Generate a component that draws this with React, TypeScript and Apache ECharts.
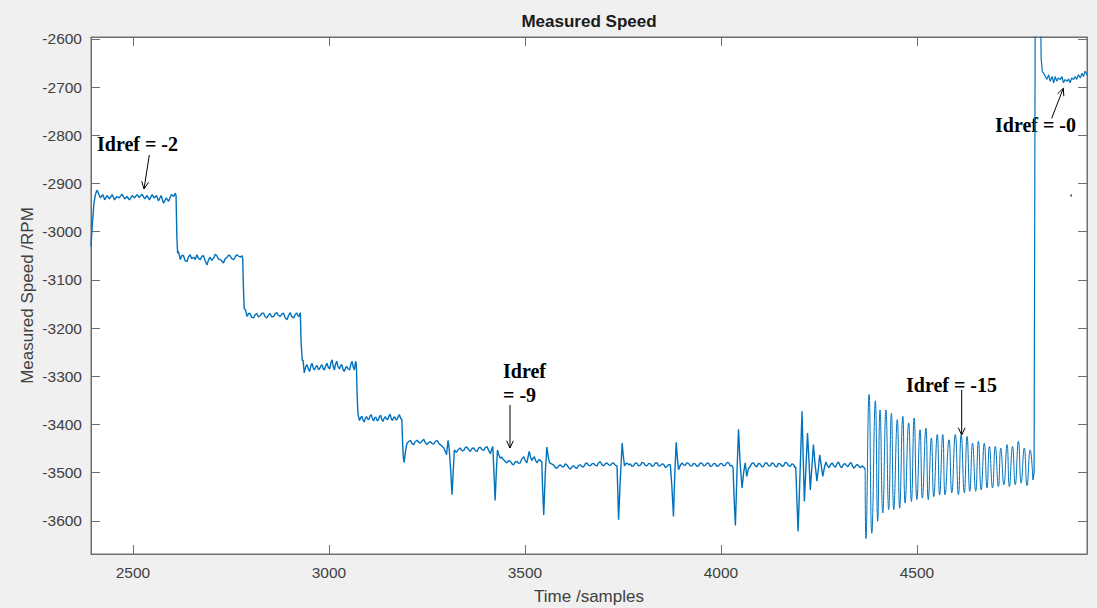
import React, { useEffect, useRef } from 'react';
import * as echarts from 'echarts';

// Axis extents and tick values
const X_MIN = 2393;
const X_MAX = 4934;
const Y_MIN = -3669;
const Y_MAX = -2596;
const xTicks = [2500, 3000, 3500, 4000, 4500];
const yTicks = [-3600, -3500, -3400, -3300, -3200, -3100, -3000, -2900, -2800, -2700, -2600];

const level1: [number, number][] = [
  [2393, -3030], [2396, -2990], [2400, -2945], [2404, -2924], [2408, -2914], [2411, -2918], [2417, -2930],
  [2423, -2923], [2428, -2934], [2434, -2925], [2440, -2932], [2447, -2923], [2453, -2934], [2459, -2927],
  [2465, -2930], [2472, -2922], [2479, -2932], [2485, -2927], [2491, -2934], [2498, -2925], [2504, -2930],
  [2510, -2923], [2516, -2929], [2523, -2922], [2530, -2932], [2536, -2925], [2542, -2934], [2549, -2923],
  [2554, -2930], [2560, -2925], [2565, -2936], [2572, -2925], [2578, -2941], [2585, -2930], [2591, -2937],
  [2598, -2923], [2604, -2927], [2608, -2920], [2610, -2925],
];
const level2: [number, number][] = [
  [2612, -3010], [2614, -3045], [2616, -3041], [2621, -3058], [2625, -3049], [2629, -3050], [2633, -3060],
  [2638, -3062], [2642, -3052], [2646, -3048], [2650, -3056], [2655, -3053], [2659, -3058], [2663, -3048],
  [2667, -3055], [2672, -3058], [2676, -3051], [2680, -3050], [2684, -3060], [2689, -3069], [2693, -3058],
  [2697, -3053], [2701, -3060], [2706, -3055], [2710, -3047], [2714, -3050], [2718, -3057], [2723, -3058],
  [2727, -3061], [2731, -3065], [2735, -3057], [2740, -3053], [2744, -3049], [2748, -3050], [2752, -3056],
  [2757, -3058], [2761, -3052], [2765, -3048], [2770, -3051], [2774, -3053], [2778, -3050], [2780, -3055],
];
const level3: [number, number][] = [
  [2782, -3120], [2784, -3160], [2787, -3162], [2791, -3176], [2795, -3170], [2799, -3170], [2803, -3178],
  [2808, -3179], [2812, -3172], [2816, -3170], [2820, -3177], [2825, -3174], [2829, -3169], [2833, -3169],
  [2837, -3176], [2842, -3179], [2846, -3173], [2850, -3170], [2854, -3177], [2859, -3176], [2863, -3170],
  [2867, -3168], [2871, -3174], [2876, -3176], [2880, -3171], [2884, -3169], [2888, -3178], [2893, -3183],
  [2897, -3174], [2901, -3168], [2905, -3176], [2910, -3179], [2914, -3172], [2918, -3169], [2921, -3174],
  [2924, -3176], [2927, -3168],
];
const level4: [number, number][] = [
  [2929, -3230], [2932, -3268], [2934, -3266], [2937, -3293], [2941, -3280], [2944, -3276], [2948, -3286],
  [2951, -3290], [2954, -3278], [2957, -3273], [2960, -3283], [2963, -3287], [2967, -3280], [2970, -3278],
  [2973, -3286], [2976, -3285], [2979, -3279], [2982, -3276], [2985, -3284], [2988, -3287], [2991, -3280],
  [2995, -3273], [2998, -3281], [3002, -3285], [3005, -3272], [3008, -3266], [3011, -3280], [3014, -3287],
  [3017, -3275], [3020, -3269], [3023, -3280], [3027, -3285], [3030, -3278], [3033, -3276], [3036, -3286],
  [3039, -3290], [3043, -3282], [3046, -3280], [3049, -3285], [3053, -3287], [3056, -3275], [3059, -3269],
  [3062, -3281], [3065, -3287], [3068, -3269], [3070, -3275],
];
const level5: [number, number][] = [
  [3072, -3340], [3074, -3378], [3078, -3392], [3081, -3386], [3084, -3383], [3087, -3391], [3090, -3395],
  [3093, -3387], [3096, -3384], [3099, -3389], [3102, -3390], [3105, -3382], [3108, -3380], [3111, -3388],
  [3114, -3393], [3117, -3386], [3120, -3385], [3123, -3392], [3126, -3391], [3129, -3384], [3132, -3381],
  [3135, -3390], [3138, -3394], [3141, -3387], [3144, -3384], [3147, -3389], [3150, -3390], [3153, -3383],
  [3156, -3379], [3159, -3388], [3162, -3392], [3165, -3386], [3168, -3384], [3171, -3391], [3174, -3389],
  [3177, -3383], [3180, -3380], [3183, -3388], [3186, -3389],
];
const level6: [number, number][] = [
  [3188, -3440], [3190, -3470], [3192, -3479], [3195, -3458], [3199, -3439], [3203, -3436], [3208, -3433],
  [3212, -3440], [3216, -3442], [3220, -3436], [3225, -3433], [3229, -3437], [3233, -3439], [3237, -3435],
  [3242, -3431], [3246, -3438], [3250, -3442], [3254, -3438], [3259, -3436], [3263, -3440], [3267, -3441],
  [3271, -3436], [3276, -3433], [3280, -3439], [3284, -3442], [3288, -3445], [3293, -3449], [3297, -3456],
  [3300, -3463], [3304, -3433], [3307, -3453], [3311, -3500], [3314, -3546], [3317, -3500], [3320, -3453],
  [3325, -3458], [3330, -3452], [3335, -3449], [3340, -3455], [3344, -3454], [3348, -3448], [3352, -3447],
  [3357, -3453], [3361, -3456], [3365, -3450], [3369, -3449], [3374, -3455], [3378, -3456], [3382, -3449],
  [3386, -3447], [3390, -3452], [3395, -3454], [3399, -3448], [3403, -3446], [3408, -3455], [3412, -3461],
  [3415, -3452], [3418, -3446], [3421, -3500], [3424, -3558], [3427, -3500], [3430, -3453],
];
const level7: [number, number][] = [
  [3433, -3462], [3437, -3470], [3441, -3468], [3445, -3473], [3450, -3477], [3454, -3480], [3458, -3475],
  [3463, -3477], [3467, -3482], [3471, -3484], [3475, -3478], [3480, -3477], [3484, -3481], [3488, -3480],
  [3492, -3472], [3497, -3467], [3501, -3475], [3505, -3480], [3508, -3468], [3511, -3456], [3515, -3470],
  [3518, -3475], [3521, -3470], [3524, -3467], [3528, -3476], [3531, -3480], [3534, -3475], [3537, -3473],
  [3540, -3476], [3543, -3477], [3545, -3530], [3548, -3588], [3552, -3500], [3556, -3447], [3560, -3470],
  [3563, -3480], [3568, -3482], [3573, -3484], [3578, -3490], [3582, -3491], [3586, -3486], [3590, -3484],
  [3595, -3488], [3599, -3488], [3603, -3482], [3607, -3484], [3612, -3490], [3616, -3493], [3620, -3488],
  [3624, -3486], [3629, -3490], [3633, -3491], [3637, -3485], [3641, -3484], [3646, -3488], [3650, -3488],
  [3654, -3482], [3658, -3480], [3663, -3485], [3667, -3486], [3671, -3482], [3675, -3481], [3680, -3485],
  [3684, -3486], [3688, -3480], [3692, -3477], [3697, -3484], [3701, -3486], [3705, -3482], [3709, -3480],
  [3714, -3484], [3718, -3485], [3722, -3481], [3726, -3480], [3731, -3485], [3735, -3486], [3737, -3540],
  [3739, -3598], [3743, -3520], [3748, -3439], [3751, -3465], [3754, -3486], [3757, -3482], [3760, -3480],
  [3765, -3484], [3769, -3482], [3773, -3487], [3777, -3486], [3782, -3480], [3786, -3481], [3790, -3486],
  [3794, -3485], [3799, -3479], [3803, -3480], [3807, -3485], [3811, -3486], [3816, -3481], [3820, -3482],
  [3824, -3487], [3828, -3486], [3833, -3480], [3837, -3480], [3841, -3486], [3845, -3486], [3850, -3482],
  [3854, -3483], [3858, -3489], [3862, -3488], [3867, -3483], [3871, -3484], [3875, -3530], [3879, -3591],
  [3882, -3510], [3886, -3437], [3889, -3470], [3892, -3494], [3897, -3484], [3901, -3480], [3905, -3484],
  [3909, -3485], [3913, -3480], [3917, -3481], [3922, -3486], [3926, -3486], [3930, -3481], [3934, -3482],
  [3939, -3487], [3943, -3486], [3947, -3480], [3952, -3481], [3956, -3486], [3960, -3485], [3965, -3480],
  [3969, -3481], [3973, -3487], [3977, -3486], [3982, -3481], [3986, -3482], [3990, -3487], [3994, -3486],
  [3999, -3481], [4003, -3482], [4007, -3486], [4011, -3485], [4016, -3479], [4020, -3480], [4024, -3486],
  [4028, -3485], [4031, -3490],
];
const level8: [number, number][] = [
  [4034, -3560], [4037, -3610], [4041, -3500], [4045, -3410], [4049, -3480], [4054, -3532], [4058, -3500],
  [4062, -3480], [4066, -3508], [4070, -3492], [4075, -3487], [4079, -3481], [4083, -3480], [4088, -3486],
  [4092, -3488], [4096, -3481], [4100, -3482], [4105, -3488], [4109, -3487], [4113, -3480], [4117, -3480],
  [4122, -3486], [4126, -3486], [4130, -3480], [4134, -3481], [4139, -3487], [4143, -3488], [4147, -3481],
  [4151, -3482], [4156, -3487], [4160, -3486], [4164, -3479], [4168, -3480], [4173, -3486], [4177, -3487],
  [4181, -3482], [4185, -3483], [4189, -3490], [4191, -3488], [4194, -3560], [4197, -3622], [4202, -3500],
  [4207, -3373], [4210, -3470], [4213, -3560], [4217, -3490], [4221, -3418], [4225, -3480], [4228, -3536],
  [4232, -3490], [4236, -3442], [4240, -3480], [4245, -3518], [4249, -3490], [4252, -3463], [4256, -3485],
  [4260, -3508], [4264, -3490], [4268, -3478], [4272, -3486], [4276, -3490], [4280, -3483], [4284, -3480],
  [4288, -3486], [4292, -3489], [4296, -3482], [4300, -3478], [4304, -3486], [4308, -3490], [4312, -3484],
  [4316, -3481], [4320, -3485], [4324, -3488], [4328, -3482], [4332, -3479], [4336, -3487], [4340, -3491],
  [4344, -3486], [4348, -3483], [4352, -3487], [4356, -3490], [4360, -3486], [4364, -3488], [4368, -3494],
];
// Idref = -15 oscillation (peaks and troughs)
const oscillation: [number, number][] = [
  [4368, -3494], [4370, -3637], [4378, -3338], [4385, -3626], [4394, -3351], [4400, -3601], [4406, -3370],
  [4413, -3584], [4421, -3370], [4428, -3577], [4435, -3377], [4441, -3577], [4450, -3390], [4456, -3574],
  [4464, -3383], [4470, -3563], [4479, -3397], [4486, -3560], [4493, -3387], [4500, -3556], [4508, -3411],
  [4514, -3553], [4523, -3408], [4529, -3556], [4537, -3428], [4543, -3550], [4552, -3421], [4558, -3546],
  [4566, -3421], [4572, -3546], [4582, -3432], [4589, -3542], [4598, -3421], [4606, -3546], [4613, -3421],
  [4621, -3542], [4628, -3425], [4635, -3539], [4642, -3439], [4650, -3539], [4657, -3435], [4664, -3536],
  [4672, -3439], [4679, -3532], [4685, -3446], [4693, -3532], [4700, -3446], [4708, -3529], [4714, -3449],
  [4722, -3525], [4730, -3442], [4736, -3529], [4744, -3446], [4751, -3525], [4759, -3435], [4766, -3522],
  [4774, -3449], [4781, -3527], [4789, -3453], [4796, -3515],
];
// Idref = -0 tail
const tail: [number, number][] = [
  [4796, -3515], [4799, -3500], [4802, -2500], [4815, -2500], [4817, -2640], [4820, -2668], [4823, -2671],
  [4832, -2684], [4836, -2674], [4840, -2688], [4845, -2678], [4849, -2691], [4853, -2678], [4857, -2688],
  [4861, -2681], [4866, -2684], [4870, -2678], [4874, -2691], [4878, -2684], [4883, -2688], [4887, -2683],
  [4891, -2691], [4895, -2681], [4900, -2684], [4904, -2678], [4908, -2684], [4912, -2674], [4917, -2681],
  [4921, -2671], [4925, -2678], [4929, -2667], [4934, -2674],
];

const LINE_COLOR = '#0072BD';
const AXIS_COLOR = '#6e6e6e';
const LABEL_COLOR = '#404040';
const SANS = '"Liberation Sans", Arial, Helvetica, sans-serif';
const SERIF = '"Liberation Serif", "Times New Roman", serif';

function annotationText(text: string, x: number, y: number) {
  return {
    type: 'text',
    x,
    y,
    style: {
      text,
      font: `bold 20px ${SERIF}`,
      fill: '#000',
      textAlign: 'left',
      textVerticalAlign: 'middle',
      align: 'left',
      verticalAlign: 'middle',
    },
  };
}

function arrow(x1: number, y1: number, x2: number, y2: number) {
  const dx = x2 - x1;
  const dy = y2 - y1;
  const len = Math.sqrt(dx * dx + dy * dy);
  const ux = -dx / len;
  const uy = -dy / len;
  const a = (25 * Math.PI) / 180;
  const h = 8;
  const p1 = [x2 + h * (ux * Math.cos(a) - uy * Math.sin(a)), y2 + h * (ux * Math.sin(a) + uy * Math.cos(a))];
  const p2 = [x2 + h * (ux * Math.cos(-a) - uy * Math.sin(-a)), y2 + h * (ux * Math.sin(-a) + uy * Math.cos(-a))];
  return [
    { type: 'line', shape: { x1, y1, x2, y2 }, style: { stroke: '#000', lineWidth: 1 } },
    { type: 'polyline', shape: { points: [p1, [x2, y2], p2] }, style: { stroke: '#000', lineWidth: 1, fill: 'none' } },
  ];
}

export default function App() {
  const ref = useRef<HTMLDivElement>(null);

  useEffect(() => {
    if (!ref.current) return;
    const chart = echarts.init(ref.current, null, { renderer: 'svg' });

    const mainData = [
      ...level1, ...level2, ...level3, ...level4, ...level5, ...level6, ...level7, ...level8,
    ];

    const tickStyle = { color: AXIS_COLOR, width: 1 };
    const plain = (v: number) => String(v);
    const baseX = {
      type: 'value',
      min: X_MIN,
      max: X_MAX,
      splitLine: { show: false },
      axisLine: { show: true, lineStyle: tickStyle },
      axisTick: { show: true, inside: true, length: 9, customValues: xTicks, lineStyle: tickStyle },
    };
    const baseY = {
      type: 'value',
      min: Y_MIN,
      max: Y_MAX,
      splitLine: { show: false },
      axisLine: { show: true, lineStyle: tickStyle },
      axisTick: { show: true, inside: true, length: 9, customValues: yTicks, lineStyle: tickStyle },
    };

    const lineSeries = (data: [number, number][], smooth: number | boolean, width: number) => ({
      type: 'line',
      data,
      showSymbol: false,
      symbol: 'none',
      smooth,
      clip: true,
      lineStyle: { color: LINE_COLOR, width },
      itemStyle: { color: LINE_COLOR },
      emphasis: { disabled: true },
    });

    chart.setOption({
      animation: false,
      backgroundColor: '#f0f0f0',
      title: {
        text: 'Measured Speed',
        left: 584,
        top: 8,
        textAlign: 'center',
        textStyle: { fontSize: 17, fontWeight: 'bold', color: '#1a1a1a', fontFamily: SANS },
      },
      grid: {
        left: 91,
        right: 10,
        top: 37,
        bottom: 54,
        show: true,
        backgroundColor: '#ffffff',
        borderColor: AXIS_COLOR,
        borderWidth: 1,
        containLabel: false,
        outerBoundsMode: 'none',
      },
      xAxis: [
        {
          ...baseX,
          position: 'bottom',
          name: 'Time /samples',
          nameLocation: 'middle',
          nameGap: 34,
          nameTextStyle: { color: LABEL_COLOR, fontSize: 17, fontFamily: SANS },
          axisLabel: {
            show: true, customValues: xTicks, formatter: plain, color: LABEL_COLOR, fontSize: 15.5, margin: 10, fontFamily: SANS,
          },
        },
        {
          ...baseX,
          position: 'top',
          axisLabel: { show: false },
        },
      ],
      yAxis: [
        {
          ...baseY,
          position: 'left',
          name: 'Measured Speed /RPM',
          nameLocation: 'middle',
          nameGap: 55,
          nameMoveOverlap: false,
          nameTextStyle: { color: LABEL_COLOR, fontSize: 17, fontFamily: SANS },
          axisLabel: {
            show: true, customValues: yTicks, formatter: plain, color: LABEL_COLOR, fontSize: 15.5, margin: 9, fontFamily: SANS,
          },
        },
        {
          ...baseY,
          position: 'right',
          axisLabel: { show: false },
        },
      ],
      series: [
        lineSeries(mainData, false, 1.4),
        lineSeries(oscillation, 0.5, 1),
        lineSeries(tail, false, 1.2),
      ],
      graphic: [
        annotationText('Idref = -2', 97, 144),
        ...arrow(149.3, 155, 144, 189),
        annotationText('Idref', 503, 371),
        annotationText('= -9', 503, 395),
        ...arrow(510, 405, 510, 448),
        annotationText('Idref = -15', 906, 385),
        ...arrow(961.7, 390, 961.7, 435),
        annotationText('Idref = -0', 995, 125),
        ...arrow(1051.7, 118.3, 1063.3, 88.3),
        { type: 'rect', shape: { x: 1070.5, y: 194.5, width: 1.2, height: 2 }, style: { fill: '#000' } },
      ],
    });

    return () => {
      chart.dispose();
    };
  }, []);

  return (
    <div
      ref={ref}
      style={{ position: 'absolute', left: 0, top: 0, width: 1097, height: 608, background: '#f0f0f0' }}
    />
  );
}
